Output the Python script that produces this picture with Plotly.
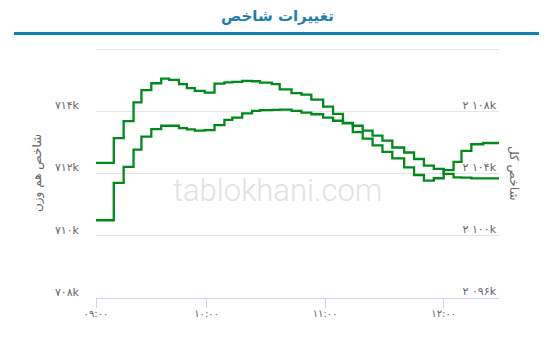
import plotly.graph_objects as go

# ---- data ----
times = ["09:04", "09:13", "09:18", "09:23", "09:27", "09:32", "09:37", "09:41", "09:46", "09:50",
         "09:54", "09:59", "10:04", "10:09", "10:13", "10:18", "10:23", "10:27", "10:33", "10:37",
         "10:43", "10:48", "10:53", "10:59", "11:04", "11:09", "11:14", "11:19", "11:24", "11:29",
         "11:34", "11:40", "11:45", "11:50", "11:55", "12:00", "12:05", "12:09", "12:14", "12:20",
         "12:28"]

total_index_k = [2104.66, 2106.26, 2107.35, 2108.56, 2109.36, 2109.80, 2110.10, 2110.02, 2109.74, 2109.48,
                 2109.31, 2109.20, 2109.78, 2109.86, 2109.89, 2109.95, 2109.93, 2109.84, 2109.74, 2109.40,
                 2109.16, 2109.06, 2108.74, 2108.29, 2107.82, 2107.24, 2106.64, 2106.22, 2105.79, 2105.36,
                 2104.94, 2104.36, 2103.87, 2103.51, 2103.66, 2104.19, 2104.72, 2105.43, 2105.86, 2105.94,
                 2105.86]

equal_weight_k = [710.50, 711.70, 712.22, 712.77, 713.19, 713.43, 713.54, 713.54, 713.46, 713.42,
                  713.38, 713.40, 713.56, 713.73, 713.80, 713.94, 714.02, 714.04, 714.05, 714.06,
                  714.02, 713.96, 713.91, 713.80, 713.70, 713.62, 713.54, 713.38, 713.22, 713.06,
                  712.84, 712.68, 712.47, 712.26, 712.15, 711.99, 711.88, 711.87, 711.85, 711.85,
                  711.83]

x_tick_vals = ["09:04", "10:00", "11:00", "12:00"]
x_tick_text = ["۰۹:۰۰", "۱۰:۰۰", "۱۱:۰۰", "۱۲:۰۰"]
left_tick_vals = [708, 710, 712, 714, 716]
left_tick_text = ["۷۰۸k", "۷۱۰k", "۷۱۲k", "۷۱۴k", ""]
right_tick_vals = [2096, 2100, 2104, 2108]
right_tick_text = ["۲ ۰۹۶k", "۲ ۱۰۰k", "۲ ۱۰۴k", "۲ ۱۰۸k"]

title_text = "تغییرات شاخص"
left_title = "شاخص هم وزن"
right_title = "شاخص کل"
watermark = "tablokhani.com"

day = "2024-01-01 "
xs = [day + t for t in times]

GREEN = "#008a1c"
FONT = "DejaVu Sans"

fig = go.Figure()
fig.add_trace(go.Scatter(x=xs, y=equal_weight_k, mode="lines", line=dict(color=GREEN, width=2.3, shape="hv"),
                         yaxis="y", showlegend=False, hoverinfo="skip"))
fig.add_trace(go.Scatter(x=xs, y=total_index_k, mode="lines", line=dict(color=GREEN, width=2.3, shape="hv"),
                         yaxis="y2", showlegend=False, hoverinfo="skip"))

fig.update_layout(
    width=553, height=347,
    margin=dict(l=96, r=54, t=48, b=49),
    paper_bgcolor="white", plot_bgcolor="white",
    font=dict(family=FONT, color="#666666", size=11),
    xaxis=dict(
        type="date",
        range=[day + "09:04", day + "12:28"],
        tickvals=[day + t for t in x_tick_vals], ticktext=x_tick_text,
        showgrid=False, zeroline=False,
        showline=True, linecolor="#ccd6eb", linewidth=1,
        ticks="outside", ticklen=9, tickcolor="#ccd6eb",
        ticklabelstandoff=-3,
        tickfont=dict(size=10, color="#666666"),
    ),
    yaxis=dict(
        range=[708, 716.04], tickvals=left_tick_vals, ticktext=left_tick_text,
        showgrid=True, gridcolor="#e6e6e6", gridwidth=1, zeroline=False, showline=False,
        ticks="", ticklabelstandoff=16, ticklabelshift=-6,
        tickfont=dict(size=11, color="#666666"),
    ),
    yaxis2=dict(
        range=[2095.92, 2112.08], tickvals=right_tick_vals, ticktext=right_tick_text,
        overlaying="y", side="right", showgrid=False, zeroline=False, showline=False,
        ticks="", ticklabelposition="inside", ticklabelshift=-6, ticklabelstandoff=0,
        tickfont=dict(size=11, color="#666666"),
    ),
    annotations=[
        dict(text=title_text, xref="paper", yref="paper", x=(277 - 96) / 403, y=(298 - 16) / 250,
             xanchor="center", yanchor="middle", showarrow=False,
             font=dict(family=FONT, size=15, color="#1a7fb0", weight="bold")),
        dict(text=left_title, xref="paper", yref="paper", x=(37 - 96) / 403, y=0.5,
             xanchor="center", yanchor="middle", textangle=-90, showarrow=False,
             font=dict(family=FONT, size=12, color="#666666")),
        dict(text=right_title, xref="paper", yref="paper", x=(514 - 96) / 403, y=0.5,
             xanchor="center", yanchor="middle", textangle=90, showarrow=False,
             font=dict(family=FONT, size=12, color="#666666")),
        dict(text=watermark, xref="paper", yref="paper", x=(277 - 96) / 403, y=(298 - 190) / 250,
             xanchor="center", yanchor="middle", showarrow=False,
             font=dict(family="Roboto", size=31, color="#e2e2e2", weight=300)),
    ],
    shapes=[
        dict(type="line", xref="paper", yref="paper", x0=(14 - 96) / 403, x1=(539 - 96) / 403,
             y0=(298 - 33.5) / 250, y1=(298 - 33.5) / 250, line=dict(color="#1380b3", width=3)),
    ],
)

fig.write_html("out.html")
